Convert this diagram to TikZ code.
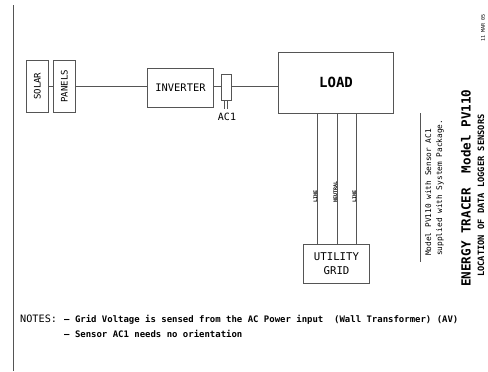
\documentclass[tikz,border=0pt]{standalone}
\usepackage{fontspec}
\setmainfont{DejaVu Sans Mono}
\usetikzlibrary{positioning,calc}
\definecolor{wiregray}{HTML}{555555}
\tikzset{
    every node/.style={font=\small},
    unitbox/.style={rectangle,draw=wiregray,line width=0.8pt,inner sep=0pt},
    panelbox/.style={unitbox,minimum width=21.5pt,minimum height=51.5pt},
    wire/.style={draw=wiregray,line width=0.8pt},
    vlabel/.style={rotate=90,inner sep=0pt,text=black},
    linelabel/.style={vlabel,anchor=south west,pos=0.678,xshift=-1.2pt,font=\bfseries\fontsize{4.9}{5}\selectfont}
}
\begin{document}
\begin{tikzpicture}[x=1pt,y=-1pt]
\useasboundingbox (0,0) rectangle (488,372);
% panels and inverter
\node[panelbox] (solar) at (37.25,86.25) {};
\node[panelbox] (panels) at (64.25,86.25) {};
\node[vlabel,font=\fontsize{9}{10}\selectfont] at (solar) {SOLAR};
\node[vlabel,font=\fontsize{9}{10}\selectfont] at (panels) {PANELS};
\node[unitbox,minimum width=66pt,minimum height=39pt,font=\fontsize{10.4}{12}\selectfont] (inverter) at (180.5,87.5) {INVERTER};
\node[unitbox,minimum width=9.5pt,minimum height=26pt] (ac1) at (226.25,87.5) {};
\coordinate (ac1a) at (224.7,109);
\coordinate (ac1b) at (227.5,109);
\node[font=\fontsize{10}{12}\selectfont,inner sep=0pt] (ac1label) at (227,117) {AC1};
% load and grid
\node[unitbox,minimum width=115pt,minimum height=61pt,font=\bfseries\fontsize{14}{16}\selectfont] (load) at (336,82.5) {LOAD};
\node[unitbox,minimum width=66pt,minimum height=39.5pt,align=center,font=\fontsize{10.7}{14}\selectfont] (grid) at (336.5,263.75) {UTILITY\\GRID};
\draw[wire] (solar.east |- 0,86.5) -- (panels.west |- 0,86.5);
\draw[wire] (panels.east |- 0,86.5) -- (inverter.west |- 0,86.5);
\draw[wire] (inverter.east |- 0,86.5) -- (ac1.west |- 0,86.5);
\draw[wire] (ac1.east |- 0,86.5) -- (load.west |- 0,86.5);
\draw[wire] (ac1.south -| ac1a) -- (ac1a);
\draw[wire] (ac1.south -| ac1b) -- (ac1b);
\draw[wire] (load.south -| 317.5,0) -- node[linelabel] {LINE} (grid.north -| 317.5,0);
\draw[wire] (load.south -| 337.5,0) -- node[linelabel] {NEUTRAL} (grid.north -| 337.5,0);
\draw[wire] (load.south -| 356.5,0) -- node[linelabel] {LINE} (grid.north -| 356.5,0);
% page rules
\coordinate (ruleatop) at (13.5,5);
\coordinate (ruleabot) at (13.5,371);
\draw[wire] (ruleatop) -- (ruleabot);
\coordinate (rulebtop) at (420.5,113);
\coordinate (rulebbot) at (420.5,262);
\draw[wire,line width=0.6pt] (rulebtop) -- (rulebbot);
% side texts
\node[vlabel,font=\fontsize{7.8}{11}\selectfont,align=left,anchor=north west] (supplied) at (425,256) {Model PV110 with Sensor AC1\\supplied with System Package.};
\node[vlabel,font=\bfseries\fontsize{12.6}{14}\selectfont,anchor=base west] (title) at (470.5,287) {ENERGY TRACER\ \ Model PV110};
\node[vlabel,font=\bfseries\fontsize{8.7}{10}\selectfont,anchor=base west] (subtitle) at (484,277) {LOCATION OF DATA LOGGER SENSORS};
\node[vlabel,font=\fontsize{5}{6}\selectfont] (stamp) at (483,28) {11 MAR 05};
% notes
\node[font=\fontsize{10.2}{12}\selectfont,anchor=west,inner sep=0pt] (notes) at (20,319) {NOTES:};
\node[font=\bfseries\fontsize{8.97}{10}\selectfont,anchor=west,inner sep=0pt] (note1) at (64,319.5) {— Grid Voltage is sensed from the AC Power input\ \ (Wall Transformer) (AV)};
\node[font=\bfseries\fontsize{8.97}{10}\selectfont,anchor=west,inner sep=0pt] (note2) at (64,333.5) {— Sensor AC1 needs no orientation};
\end{tikzpicture}
\end{document}
